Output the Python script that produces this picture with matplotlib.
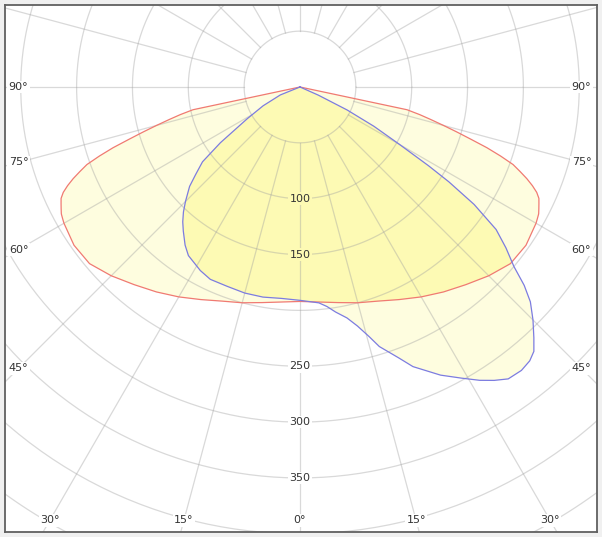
import numpy as np
import matplotlib.pyplot as plt
from matplotlib.patches import Polygon

# C0 - C180 plane (red), angle from nadir in degrees, intensity in cd
red_ang = [-80, -78, -77, -76, -75, -74, -73, -72, -71, -70, -69, -68, -67, -66, -65, -64, -63, -62, -61, -60,
           -55, -50, -45, -40, -35, -30, -25, -20, -15, -10,
           0, 10, 15, 20, 25, 30, 35, 40, 45, 50, 55,
           60, 61, 62, 63, 64, 65, 66, 67, 68, 69, 70, 71, 72, 73, 74, 75, 76, 77, 78, 80]
red_cd = [0, 98, 110, 121, 133, 146, 160, 176, 190, 203, 211, 219, 226, 232, 236, 238, 240, 242, 243, 244,
          247, 246, 239, 231, 224, 217, 210, 204, 200, 196,
          192, 196, 200, 204, 210, 217, 224, 231, 239, 246, 247,
          244, 243, 242, 240, 238, 236, 232, 226, 219, 211, 203, 190, 176, 160, 146, 133, 121, 110, 98, 0]

# C90 - C270 plane (blue)
blue_ang = [-72, -68, -63, -59, -55, -52.5, -50, -48, -45, -43, -41, -39, -36, -33.5, -30, -28.5, -25, -20, -15,
            -10, -5, 0, 2, 5, 7, 9, 11.5, 13.5, 15.5, 17, 20, 22, 26, 29, 31.5, 33.5, 35.5, 38, 40, 41.5, 43,
            45, 47, 48.5, 50, 52, 54, 56, 57.5, 58.5, 60, 62, 64, 66, 68]
blue_cd = [0, 19, 37, 55, 87, 110, 122, 133, 145, 153, 160, 166, 175, 181, 185, 187, 190, 190, 191,
           191, 190, 191, 192, 194, 198, 204, 211, 220, 232, 243, 258, 270, 287, 298, 308, 315, 321, 322, 320, 316,
           307, 295, 282, 268, 250, 234, 217, 188, 158, 135, 103, 75, 47, 18, 0]

ring_labels = [100, 150, 250, 300, 350]
side_angles = [90, 75, 60, 45]
bottom_angles = [-30, -15, 0, 15, 30]

single_col = '#fefddf'
overlap_col = '#fdfab4'


def to_xy(ang, cd):
    a = np.radians(np.array(ang, dtype=float))
    r = np.array(cd, dtype=float)
    return np.column_stack([r * np.sin(a), -r * np.cos(a)])


fig = plt.figure(figsize=(6.02, 5.37), dpi=100, facecolor='#f0f0f0')
ax = fig.add_axes([5 / 602, 5 / 537, 592 / 602, 527 / 537])
ax.set_facecolor('white')
ax.set_xlim(-264.1, 265.9)
ax.set_ylim(-398.4, 73.4)
ax.set_xticks([])
ax.set_yticks([])
for s in ax.spines.values():
    s.set_color('#606060')
    s.set_linewidth(1.3)
    s.set_zorder(10)

red_xy = to_xy(red_ang, red_cd)
blue_xy = to_xy(blue_ang, blue_cd)

# fills
red_patch = Polygon(red_xy, closed=True, facecolor=single_col, edgecolor='none', zorder=1)
blue_patch = Polygon(blue_xy, closed=True, facecolor=single_col, edgecolor='none', zorder=1)
ax.add_patch(red_patch)
ax.add_patch(blue_patch)
both = Polygon(blue_xy, closed=True, facecolor=overlap_col, edgecolor='none', zorder=2)
ax.add_patch(both)
both.set_clip_path(red_patch)

# polar grid
t = np.linspace(0, 2 * np.pi, 400)
for r in range(50, 551, 50):
    ax.plot(r * np.cos(t), r * np.sin(t), color='#a0a0a0', lw=0.9, alpha=0.4, zorder=3)
for a in range(0, 360, 15):
    ar = np.radians(a)
    ax.plot([50 * np.sin(ar), 700 * np.sin(ar)], [-50 * np.cos(ar), -700 * np.cos(ar)],
            color='#a0a0a0', lw=0.9, alpha=0.4, zorder=3)

# outlines
ax.plot(red_xy[:, 0], red_xy[:, 1], color='#f07a72', lw=0.9, zorder=4)
ax.plot(blue_xy[:, 0], blue_xy[:, 1], color='#7c7ce0', lw=0.9, zorder=5)

# labels
txt = dict(fontsize=8, color='#333333', ha='center', va='center', zorder=6)
for v in ring_labels:
    fc = overlap_col if v < 191 else 'white'
    ax.text(0, -v, str(v), bbox=dict(fc=fc, ec='none', pad=1), **txt)
for a in side_angles:
    dy = 252 / np.tan(np.radians(a)) if a != 90 else 0
    for sx in (-1, 1):
        ax.text(sx * 252, -dy, f'{a}°', bbox=dict(fc='white', ec='none', pad=1), **txt)
for a in bottom_angles:
    ax.text(388 * np.tan(np.radians(a)), -388, f'{abs(a)}°', bbox=dict(fc='white', ec='none', pad=1), **txt)

fig.savefig('out.png', dpi=100, facecolor=fig.get_facecolor())
